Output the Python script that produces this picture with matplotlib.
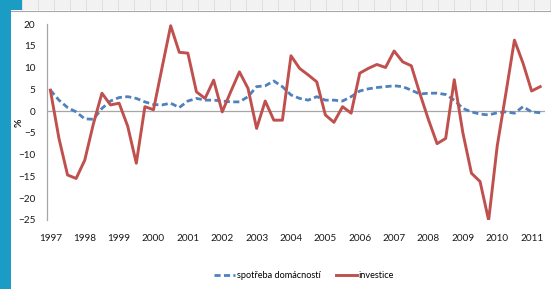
import matplotlib
matplotlib.use("Agg")
import matplotlib.pyplot as plt
from matplotlib.patches import Rectangle
import numpy as np

plt.rcParams['font.family'] = ['Lato', 'DejaVu Sans']

years = [str(y) for y in range(1997, 2012)]

spotreba = [4.8, 2.5, 0.8, -0.2, -1.8, -1.9, 0.6, 2.3, 3.1, 3.3,
            2.9, 2.1, 1.5, 1.4, 1.8, 0.8, 2.3, 2.9, 2.5, 2.5,
            2.3, 2.1, 2.1, 3.3, 5.6, 5.8, 6.9, 5.6, 3.7, 2.9,
            2.5, 3.3, 2.5, 2.5, 2.3, 3.3, 4.6, 5.1, 5.4, 5.6,
            5.8, 5.6, 4.8, 3.9, 4.1, 4.1, 3.8, 2.5, 0.6, -0.2,
            -0.7, -0.9, -0.4, -0.2, -0.5, 1.0, -0.2, -0.4]

investice = [4.8, -6.3, -14.7, -15.5, -11.3, -3.0, 4.1, 1.4, 1.8, -3.5,
             -12.0, 1.0, 0.3, 10.0, 19.6, 13.5, 13.3, 4.4, 2.9, 7.1,
             -0.2, 4.5, 9.0, 5.2, -4.0, 2.3, -2.1, -2.1, 12.7, 9.8,
             8.3, 6.7, -0.9, -2.6, 1.0, -0.5, 8.7, 9.8, 10.7, 10.0,
             13.8, 11.3, 10.4, 4.0, -2.0, -7.5, -6.3, 7.2, -5.0, -14.3,
             -16.2, -25.1, -8.0, 4.0, 16.3, 11.0, 4.6, 5.6]

W, H = 551, 289
fig = plt.figure(figsize=(W / 100, H / 100), dpi=100)
fig.patch.set_facecolor('white')

# decorative slide background
fig.patches.append(Rectangle((0, 0), 11 / W, 1, transform=fig.transFigure,
                             facecolor='#1b9cc4', edgecolor='none', zorder=0))
fig.patches.append(Rectangle((0, 1 - 10 / H), 22 / W, 10 / H, transform=fig.transFigure,
                             facecolor='#1b9cc4', edgecolor='none', zorder=0))
fig.patches.append(Rectangle((22 / W, 1 - 10 / H), 1 - 22 / W, 10 / H, transform=fig.transFigure,
                             facecolor='#f2f2f2', edgecolor='none', zorder=0))
for gx in np.arange(22, W, 16):
    fig.lines.append(plt.Line2D([gx / W, gx / W], [1 - 10 / H, 1], transform=fig.transFigure,
                                color='#dcdcdc', lw=0.6))
fig.lines.append(plt.Line2D([11 / W, 1], [1 - 10.5 / H, 1 - 10.5 / H], transform=fig.transFigure,
                            color='#a8a8a8', lw=0.8))

left = 46.5 / W
right = 544.5 / W
top = 1 - 24 / H
bottom = 1 - 219.8 / H
ax = fig.add_axes([left, bottom, right - left, top - bottom])
ax.set_facecolor('none')

x = np.arange(len(spotreba))
ax.plot(x, spotreba, color='#4f81bd', lw=2.0, linestyle=(0, (2.2, 1.2)),
        label='spotřeba domácností', zorder=3)
ax.plot(x, investice, color='#c0504d', lw=2.1, label='investice', zorder=4)

ax.axhline(0, color='#a6a6a6', lw=0.9, zorder=1)
ax.set_xlim(-0.45, len(x) - 0.5)
ax.set_ylim(-25, 20)
ax.set_yticks(np.arange(-25, 21, 5))
ax.set_xticks(np.arange(0, len(x), 4))
ax.set_xticklabels(years)

for s in ['top', 'right', 'bottom']:
    ax.spines[s].set_visible(False)
ax.spines['left'].set_color('#a6a6a6')
ax.spines['left'].set_linewidth(0.9)
ax.tick_params(axis='both', length=0, labelsize=7.2, colors='#1a1a1a')
ax.tick_params(axis='y', pad=8)
ax.tick_params(axis='x', pad=10)

fig.text(19 / W, 1 - 123 / H, '%', rotation=90, ha='center', va='center',
         fontsize=7.5, fontweight='bold', color='#1a1a1a')

fig.legend(loc='center', bbox_to_anchor=(304 / W, 1 - 276 / H), ncol=2,
           frameon=False, fontsize=6.6, handlelength=2.3, columnspacing=1.6,
           handletextpad=0.2)

fig.savefig('out.png', dpi=100)
